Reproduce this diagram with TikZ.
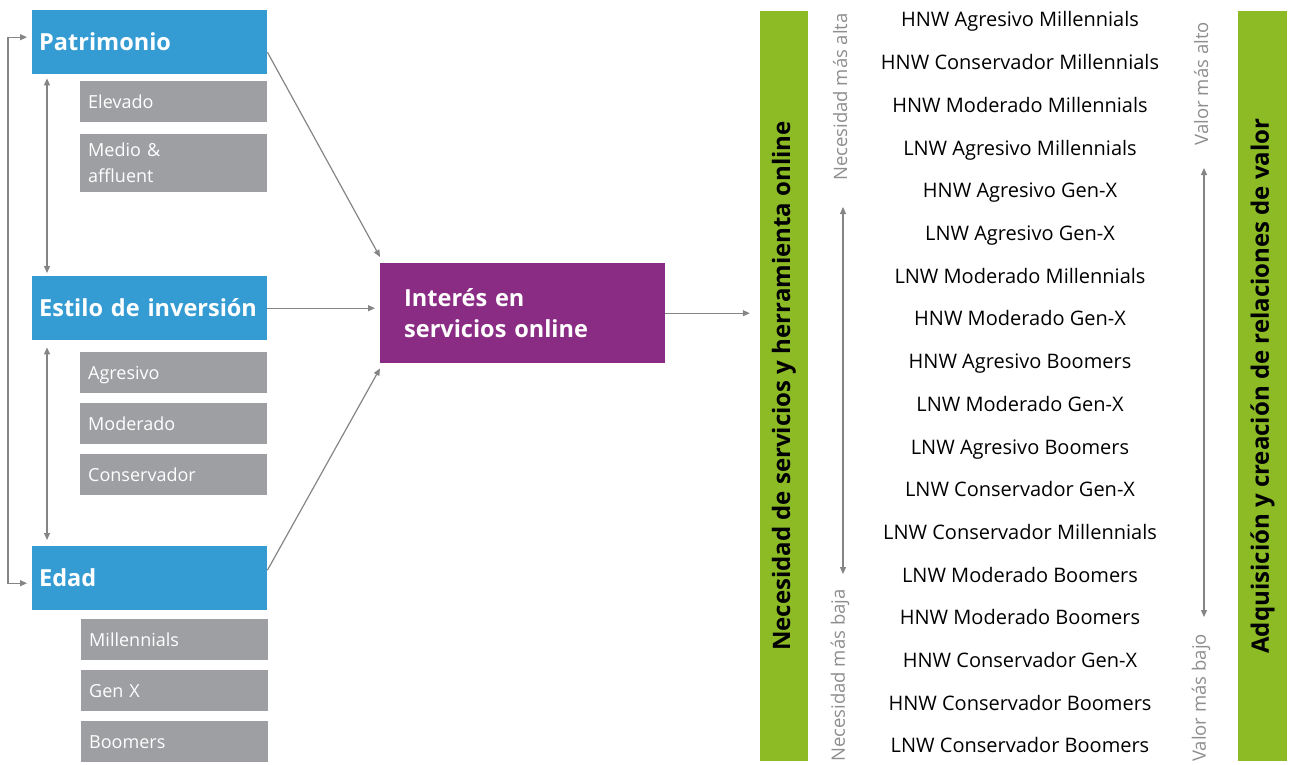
\documentclass[tikz,border=0pt]{standalone}
\usepackage{fontspec}
\setmainfont{Open Sans}
\usetikzlibrary{arrows.meta,calc}
\definecolor{cblue}{HTML}{359CD3}
\definecolor{cgray}{HTML}{9D9FA2}
\definecolor{cpurple}{HTML}{8B2C84}
\definecolor{cgreen}{HTML}{8CBB26}
\definecolor{carrow}{HTML}{858585}
\definecolor{clabel}{HTML}{8E8E8E}
\begin{document}
\begin{tikzpicture}[x=1pt,y=-1pt,
  head/.style={fill=cblue, text=white, font=\bfseries\fontsize{23.5}{28}\selectfont, anchor=north west,
    minimum height=64pt, text width=221pt, inner xsep=7pt, inner ysep=0pt, align=left,
    text height=20pt, text depth=3pt},
  subbox/.style={fill=cgray, text=white, font=\fontsize{18}{26}\selectfont, anchor=north west,
    minimum height=41pt, text width=171pt, inner xsep=8pt, inner ysep=0pt, align=left},
  sub/.style={subbox, text height=16pt, text depth=3pt},
  seg/.style={font=\fontsize{20}{24}\selectfont, text=black, inner sep=0pt, anchor=base},
  glabel/.style={font=\fontsize{18.5}{22}\selectfont, text=clabel, rotate=90, inner sep=0pt},
  gbar/.style={fill=cgreen, text=black, font=\bfseries\fontsize{24}{28}\selectfont, rotate=90,
    minimum width=750pt, inner sep=0pt},
  arr/.style={draw=carrow, line width=1.2pt, -{Triangle[length=7pt,width=6pt]}},
  darr/.style={draw=carrow, line width=1.2pt, {Triangle[length=7pt,width=6pt]}-{Triangle[length=7pt,width=6pt]}}
]
\useasboundingbox (0,0) rectangle (1290,765);

% left column
\node[head] (pat) at (32,10) {Patrimonio};
\node[sub] (elev) at (80,81) {Elevado};
\node[subbox, minimum height=58pt] (medio) at (80,134) {Medio \&\\affluent};
\node[head] (est) at (32,276) {Estilo de inversión};
\node[sub] (agr) at (80,352) {Agresivo};
\node[sub] (mod) at (80,403) {Moderado};
\node[sub] (cons) at (80,454) {Conservador};
\node[head] (edad) at (32,546) {Edad};
\node[sub] (mill) at (81,619) {Millennials};
\node[sub] (genx) at (81,670) {Gen X};
\node[sub] (boom) at (81,721) {Boomers};

% purple
\node[fill=cpurple, text=white, font=\bfseries\fontsize{23.5}{31}\selectfont, anchor=north west,
  minimum height=100pt, text width=261pt, inner xsep=12pt, inner ysep=0pt, align=left]
  (int) at (380,263) {\hspace*{12pt}Interés en\\\hspace*{12pt}servicios online};

% green bars
\node[gbar, minimum height=48pt] (gl) at (784,386) {Necesidad de servicios y herramienta online};
\node[gbar, minimum height=49pt] (gr) at (1262.5,386) {Adquisición y creación de relaciones de valor};

% left loops
\draw[darr] ([xshift=-5pt,yshift=5pt]pat.west) -- ++(-19,0) |- ([xshift=-5pt,yshift=-5pt]edad.west);
\draw[darr] ([xshift=15pt,yshift=-4pt]pat.south west) -- ([xshift=15pt,yshift=3pt]est.north west);
\draw[darr] ([xshift=15pt,yshift=-7pt]est.south west) -- ([xshift=15pt,yshift=6pt]edad.north west);

% into purple
\draw[arr] ([yshift=-10pt]pat.east) -- ([yshift=6pt]int.north west);
\draw[arr] (est.east) -- ([xshift=-5pt]int.west |- est.east);
\draw[arr] ([yshift=8pt]edad.east) -- ([yshift=-5pt]int.south west);
\draw[arr] (int.east) -- ([xshift=-10pt]gl.north |- int.east);

% segment list
\foreach \t [count=\i from 0] in {HNW Agresivo Millennials, HNW Conservador Millennials, HNW Moderado Millennials,
  LNW Agresivo Millennials, HNW Agresivo Gen-X, LNW Agresivo Gen-X, LNW Moderado Millennials,
  HNW Moderado Gen-X, HNW Agresivo Boomers, LNW Moderado Gen-X, LNW Agresivo Boomers,
  LNW Conservador Gen-X, LNW Conservador Millennials, LNW Moderado Boomers, HNW Moderado Boomers,
  HNW Conservador Gen-X, HNW Conservador Boomers, LNW Conservador Boomers}
  \node[seg] (s\i) at (1020,{27+42.7*\i}) {\t};

% gray labels and scales
\node[glabel, anchor=east] (nalta) at (840,13) {Necesidad más alta};
\node[glabel, anchor=west] (nbaja) at (840,762) {Necesidad más baja};
\coordinate (na1) at (843,207);
\coordinate (na2) at (843,574);
\draw[darr] (na1) -- (na2);
\node[glabel, anchor=east] (valto) at (1201,22) {Valor más alto};
\node[glabel, anchor=west] (vbajo) at (1201,762) {Valor más bajo};
\coordinate (va1) at (1204,168);
\coordinate (va2) at (1204,617);
\draw[darr] (va1) -- (va2);
\end{tikzpicture}
\end{document}
